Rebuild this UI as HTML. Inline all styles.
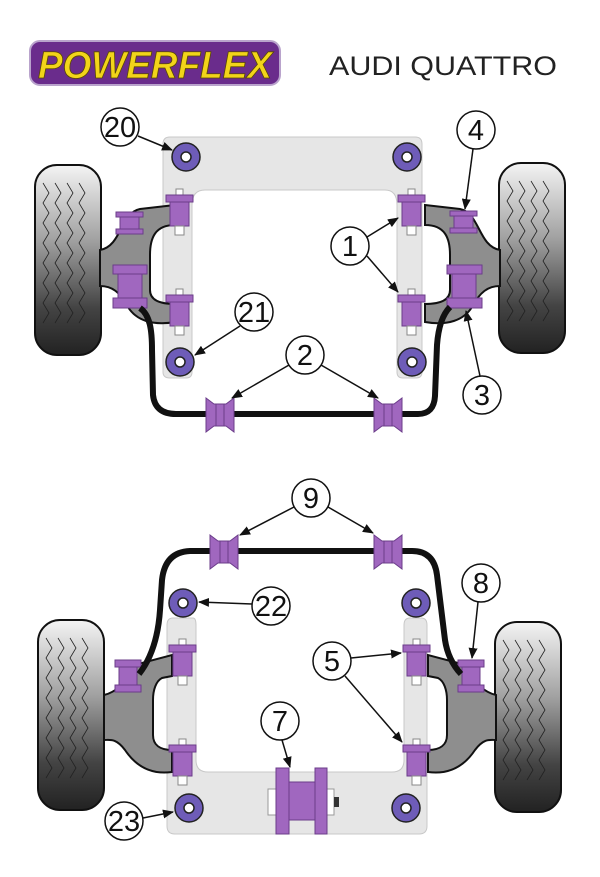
<!DOCTYPE html>
<html><head><meta charset="utf-8"><style>
html,body{margin:0;padding:0;background:#fff}
svg{display:block}
</style></head><body>
<svg width="600" height="877" viewBox="0 0 600 877" xmlns="http://www.w3.org/2000/svg" font-family="Liberation Sans, sans-serif">
<defs>
<linearGradient id="tg" x1="0" y1="0" x2="0" y2="1">
<stop offset="0" stop-color="#f4f4f4"/><stop offset="0.4" stop-color="#a0a0a0"/><stop offset="0.75" stop-color="#444"/><stop offset="1" stop-color="#222"/>
</linearGradient>
<marker id="ar" markerWidth="11" markerHeight="9" refX="10" refY="4.5" orient="auto" markerUnits="userSpaceOnUse"><path d="M0,0 L11,4.5 L0,9 Z" fill="#111"/></marker>
<g id="tire">
<rect x="0" y="0" width="66" height="190" rx="22" fill="url(#tg)" stroke="#111" stroke-width="2"/>
<g fill="none" stroke="#222" stroke-width="0.8">
<path d="M8,18 l6,10 -6,10 6,10 -6,10 6,10 -6,10 6,10 -6,10 6,10 -6,10 6,10 -6,10 6,10 -6,10"/>
<path d="M20,18 l6,10 -6,10 6,10 -6,10 6,10 -6,10 6,10 -6,10 6,10 -6,10 6,10 -6,10 6,10 -6,10"/>
<path d="M32,18 l6,10 -6,10 6,10 -6,10 6,10 -6,10 6,10 -6,10 6,10 -6,10 6,10 -6,10 6,10 -6,10"/>
<path d="M44,18 l6,10 -6,10 6,10 -6,10 6,10 -6,10 6,10 -6,10 6,10 -6,10 6,10 -6,10 6,10 -6,10"/>
</g>
</g>
<g id="ring"><circle r="14" fill="#6e5cb8" stroke="#222" stroke-width="1.5"/><circle r="5" fill="#fff" stroke="#222" stroke-width="1.5"/></g>
<g id="sfb"><rect x="10" y="-6" width="7" height="6" fill="#fff" stroke="#888"/><rect x="0" y="0" width="27" height="7" fill="#a067bf" stroke="#6b3c8a"/><rect x="4" y="7" width="19" height="24" fill="#a067bf" stroke="#6b3c8a"/><rect x="9" y="31" width="9" height="9" fill="#fff" stroke="#888"/></g>
<g id="arb"><path d="M0,0 L8,6 L20,6 L28,0 L28,34 L20,28 L8,28 L0,34 Z" fill="#a067bf" stroke="#6b3c8a"/><line x1="10" y1="6" x2="10" y2="28" stroke="#6b3c8a"/><line x1="18" y1="6" x2="18" y2="28" stroke="#6b3c8a"/></g>
<g id="lab"><circle r="19" fill="#fff" stroke="#111" stroke-width="1.5"/></g>
</defs>

<!-- logo -->
<rect x="30" y="41" width="250" height="44" rx="10" fill="#6a2c8c" stroke="#b9a3cc" stroke-width="2"/>
<text x="155" y="78" text-anchor="middle" font-size="38" font-weight="bold" font-style="italic" fill="#f2d41a" stroke="#5a4a00" stroke-width="0.8" textLength="234" lengthAdjust="spacingAndGlyphs">POWERFLEX</text>
<text x="443" y="75" text-anchor="middle" font-size="27" fill="#222" textLength="228" lengthAdjust="spacingAndGlyphs">AUDI QUATTRO</text>

<!-- TOP SECTION -->
<path d="M170,137 H415 Q422,137 422,144 V372 Q422,378 416,378 H403 Q397,378 397,372 V205 Q397,190 385,190 H205 Q192,190 192,205 V372 Q192,378 186,378 H170 Q163,378 163,372 V144 Q163,137 170,137Z" fill="#e6e6e6" stroke="#c8c8c8"/>
<use href="#tire" x="35" y="165"/>
<use href="#tire" x="499" y="163"/>
<path d="M100,250 C122,246 120,213 140,209 L175,205 L175,225 C155,225 150,238 150,255 L150,290 C150,300 160,304 175,304 L175,322 C152,326 136,320 128,307 C120,292 112,286 100,286 Z" fill="#8e8e8e" stroke="#111" stroke-width="2"/>
<path d="M500,250 C478,246 480,213 460,209 L425,205 L425,225 C445,225 450,238 450,255 L450,290 C450,300 440,304 425,304 L425,322 C448,326 464,320 472,307 C480,292 488,286 500,286 Z" fill="#8e8e8e" stroke="#111" stroke-width="2"/>
<use href="#ring" x="186" y="157"/><use href="#ring" x="407" y="157"/>
<use href="#ring" x="180" y="362"/><use href="#ring" x="412" y="362"/>
<use href="#sfb" x="166" y="195"/><use href="#sfb" x="166" y="295"/>
<use href="#sfb" x="398" y="195"/><use href="#sfb" x="398" y="295"/>
<g fill="#a067bf" stroke="#6b3c8a">
<rect x="116" y="212" width="27" height="5"/><rect x="120" y="217" width="19" height="12"/><rect x="116" y="229" width="27" height="5"/>
<rect x="113" y="265" width="34" height="9"/><rect x="118" y="274" width="24" height="24"/><rect x="113" y="298" width="34" height="10"/>
<rect x="450" y="211" width="27" height="5"/><rect x="454" y="216" width="19" height="12"/><rect x="450" y="228" width="27" height="5"/>
<rect x="447" y="265" width="35" height="9"/><rect x="452" y="274" width="24" height="24"/><rect x="447" y="298" width="35" height="10"/>
</g>
<path d="M140,308 C150,315 152,330 152,350 L153,395 Q155,414 176,414 L418,414 Q434,414 435,396 L437,345 Q439,318 450,307" fill="none" stroke="#111" stroke-width="6"/>
<use href="#arb" x="206" y="398"/><use href="#arb" x="374" y="398"/>
<g font-size="29" text-anchor="middle" fill="#111">
<use href="#lab" x="120" y="127"/><text x="120" y="137">20</text>
<use href="#lab" x="476" y="130"/><text x="476" y="140">4</text>
<use href="#lab" x="350" y="246"/><text x="350" y="256">1</text>
<use href="#lab" x="254" y="312"/><text x="254" y="322">21</text>
<use href="#lab" x="305" y="355"/><text x="305" y="365">2</text>
<use href="#lab" x="482" y="395"/><text x="482" y="405">3</text>
</g>
<g stroke="#111" stroke-width="1.5" marker-end="url(#ar)">
<line x1="138" y1="136" x2="172" y2="150"/>
<line x1="473" y1="149" x2="465" y2="209"/>
<line x1="367" y1="237" x2="398" y2="218"/>
<line x1="367" y1="256" x2="398" y2="292"/>
<line x1="240" y1="326" x2="195" y2="355"/>
<line x1="289" y1="365" x2="232" y2="398"/>
<line x1="321" y1="365" x2="378" y2="398"/>
<line x1="480" y1="376" x2="466" y2="311"/>
</g>

<!-- BOTTOM SECTION -->
<path d="M173,618 H193 Q196,618 196,625 V760 Q196,772 208,772 H392 Q404,772 404,760 V625 Q404,618 410,618 H421 Q427,618 427,625 V826 Q427,834 419,834 H175 Q167,834 167,826 V625 Q167,618 173,618Z" fill="#e6e6e6" stroke="#c8c8c8"/>
<use href="#tire" x="38" y="620"/>
<use href="#tire" x="495" y="622"/>
<path d="M104,695 C125,690 128,670 138,664 L172,655 L172,676 L162,678 C156,681 153,690 153,700 L153,735 C153,745 160,750 172,750 L172,772 C150,775 135,765 125,750 C116,738 110,740 104,740 Z" fill="#8e8e8e" stroke="#111" stroke-width="2"/>
<path d="M496,695 C475,690 472,670 462,664 L428,655 L428,676 L438,678 C444,681 447,690 447,700 L447,735 C447,745 440,750 428,750 L428,772 C450,775 465,765 475,750 C484,738 490,740 496,740 Z" fill="#8e8e8e" stroke="#111" stroke-width="2"/>
<use href="#ring" x="183" y="603"/><use href="#ring" x="416" y="603"/>
<use href="#ring" x="189" y="808"/><use href="#ring" x="406" y="808"/>
<use href="#sfb" x="169" y="645"/><use href="#sfb" x="169" y="745"/>
<use href="#sfb" x="403" y="645"/><use href="#sfb" x="403" y="745"/>
<g fill="#a067bf" stroke="#6b3c8a">
<rect x="115" y="660" width="26" height="7"/><rect x="119" y="667" width="18" height="18"/><rect x="115" y="685" width="26" height="7"/>
<rect x="458" y="660" width="26" height="7"/><rect x="462" y="667" width="18" height="18"/><rect x="458" y="685" width="26" height="7"/>
</g>
<rect x="268" y="789" width="66" height="26" fill="#fff" stroke="#999"/>
<rect x="334" y="797" width="5" height="10" fill="#333"/>
<g fill="#a067bf" stroke="#6b3c8a">
<rect x="276" y="768" width="13" height="66"/><rect x="289" y="782" width="26" height="38"/><rect x="315" y="768" width="12" height="66"/>
</g>
<path d="M139,674 C150,660 158,640 160,610 L162,580 Q165,552 190,551 L412,551 Q434,551 437,575 L445,640 Q448,660 461,674" fill="none" stroke="#111" stroke-width="6"/>
<use href="#arb" x="210" y="535"/><use href="#arb" x="374" y="535"/>
<g font-size="29" text-anchor="middle" fill="#111">
<use href="#lab" x="311" y="498"/><text x="311" y="508">9</text>
<use href="#lab" x="271" y="606"/><text x="271" y="616">22</text>
<use href="#lab" x="481" y="583"/><text x="481" y="593">8</text>
<use href="#lab" x="332" y="661"/><text x="332" y="671">5</text>
<use href="#lab" x="280" y="721"/><text x="280" y="731">7</text>
<use href="#lab" x="124" y="821"/><text x="124" y="831">23</text>
</g>
<g stroke="#111" stroke-width="1.5" marker-end="url(#ar)">
<line x1="294" y1="507" x2="240" y2="535"/>
<line x1="328" y1="507" x2="373" y2="533"/>
<line x1="252" y1="604" x2="199" y2="602"/>
<line x1="478" y1="602" x2="472" y2="658"/>
<line x1="351" y1="658" x2="401" y2="653"/>
<line x1="345" y1="676" x2="402" y2="742"/>
<line x1="282" y1="740" x2="290" y2="767"/>
<line x1="143" y1="818" x2="173" y2="812"/>
</g>
</svg>
</body></html>
